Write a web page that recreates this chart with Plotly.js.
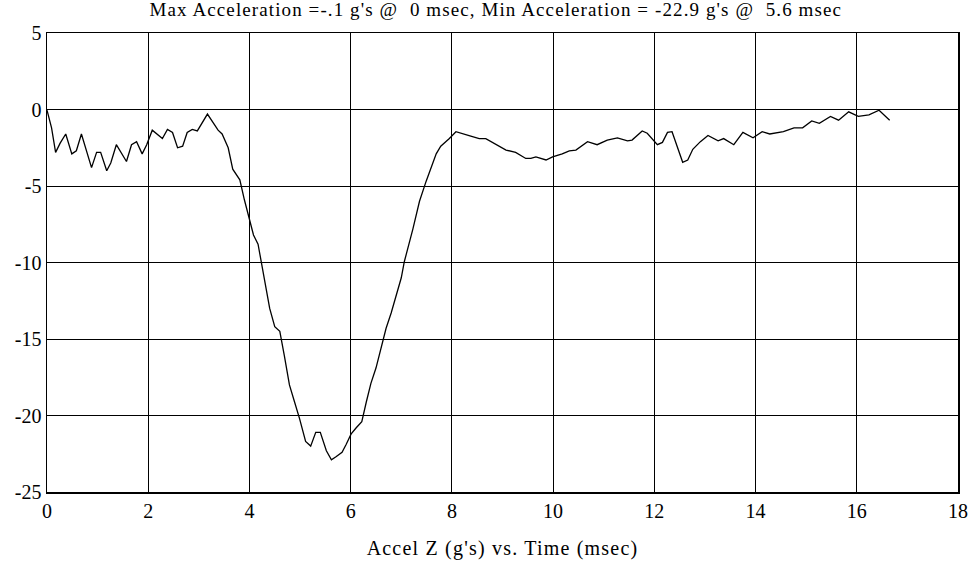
<!DOCTYPE html>
<html>
<head>
<meta charset="utf-8">
<script src="https://cdn.plot.ly/plotly-3.0.1.min.js"></script>
<style>
html,body{margin:0;padding:0;background:#fff;}
#chart{width:976px;height:565px;}
#chart .gtitle{letter-spacing:1.1px;}
#chart .xtitle{letter-spacing:1.2px;}
</style>
</head>
<body>
<div id="chart"></div>
<script>
const timeMsec = [0,0.09,0.17,0.26,0.37,0.49,0.58,0.68,0.88,0.98,1.06,1.18,1.26,1.37,1.57,1.67,1.77,1.88,1.97,2.08,2.28,2.38,2.48,2.58,2.68,2.77,2.87,2.97,3.17,3.38,3.46,3.58,3.67,3.81,3.90,4.0,4.08,4.17,4.23,4.33,4.40,4.50,4.60,4.69,4.79,4.89,4.99,5.11,5.21,5.31,5.40,5.52,5.62,5.71,5.83,5.91,6.01,6.11,6.22,6.31,6.40,6.50,6.60,6.70,6.80,6.90,7.0,7.06,7.13,7.23,7.36,7.49,7.69,7.78,7.95,8.08,8.34,8.54,8.67,8.87,9.07,9.26,9.46,9.56,9.66,9.86,9.99,10.18,10.32,10.45,10.68,10.87,11.07,11.27,11.47,11.56,11.76,11.86,12.06,12.16,12.26,12.35,12.56,12.66,12.76,12.91,13.06,13.26,13.37,13.57,13.75,13.95,14.13,14.28,14.55,14.76,14.93,15.11,15.26,15.48,15.64,15.84,16.03,16.24,16.44,16.65];
const accelG = [-0.05,-1.2,-2.8,-2.2,-1.6,-2.9,-2.7,-1.6,-3.8,-2.8,-2.8,-4.0,-3.5,-2.3,-3.4,-2.3,-2.1,-2.9,-2.3,-1.35,-1.9,-1.3,-1.5,-2.5,-2.4,-1.5,-1.3,-1.4,-0.3,-1.35,-1.6,-2.5,-3.9,-4.6,-5.9,-7.1,-8.2,-8.8,-9.9,-11.7,-13.0,-14.2,-14.5,-16.1,-18.0,-19.1,-20.2,-21.7,-22.0,-21.1,-21.1,-22.3,-22.9,-22.7,-22.4,-21.9,-21.2,-20.8,-20.4,-19.1,-17.9,-16.9,-15.6,-14.3,-13.3,-12.2,-11.0,-9.95,-9.1,-7.8,-6.0,-4.7,-2.9,-2.4,-1.9,-1.45,-1.7,-1.9,-1.9,-2.3,-2.65,-2.8,-3.2,-3.2,-3.1,-3.3,-3.1,-2.9,-2.7,-2.65,-2.1,-2.3,-2.0,-1.85,-2.05,-2.0,-1.4,-1.55,-2.3,-2.15,-1.5,-1.45,-3.45,-3.3,-2.6,-2.1,-1.7,-2.05,-1.9,-2.3,-1.5,-1.85,-1.45,-1.6,-1.45,-1.2,-1.2,-0.75,-0.9,-0.45,-0.7,-0.15,-0.45,-0.35,-0.05,-0.7];
const xTicks = [0,2,4,6,8,10,12,14,16,18];
const yTicks = [5,0,-5,-10,-15,-20,-25];
const titleText = "Max Acceleration =-.1 g's @ \u00a00 msec, Min Acceleration = -22.9 g's @ \u00a05.6 msec";
const xTitle = "Accel Z (g's) vs. Time (msec)";

const font = "Liberation Serif";
Plotly.newPlot('chart', [{
  x: timeMsec, y: accelG, type: 'scatter', mode: 'lines',
  line: {color: '#000', width: 1.3}, hoverinfo: 'skip'
}], {
  width: 976, height: 565,
  margin: {l: 47, r: 18, t: 33, b: 73},
  paper_bgcolor: '#fff', plot_bgcolor: '#fff',
  showlegend: false,
  font: {family: font, color: '#000'},
  title: {text: titleText, font: {family: font, size: 19, color: '#000'}, x: 0.508, xanchor: 'center', y: 0.995, yanchor: 'top'},
  xaxis: {
    range: [0, 18], tickvals: xTicks, ticktext: xTicks.map(String),
    showgrid: true, gridcolor: '#000', gridwidth: 1,
    showline: true, linecolor: '#000', linewidth: 1.5, mirror: true,
    zeroline: false, ticks: '',
    tickfont: {family: font, size: 20, color: '#000'},
    title: {text: xTitle, font: {family: font, size: 20, color: '#000'}, standoff: 20}
  },
  yaxis: {
    range: [-25, 5], tickvals: yTicks, ticktext: yTicks.map(String),
    showgrid: true, gridcolor: '#000', gridwidth: 1,
    showline: true, linecolor: '#000', linewidth: 1.5, mirror: true,
    zeroline: false, ticks: '',
    tickfont: {family: font, size: 20, color: '#000'}
  }
}, {staticPlot: true});
</script>
</body>
</html>
